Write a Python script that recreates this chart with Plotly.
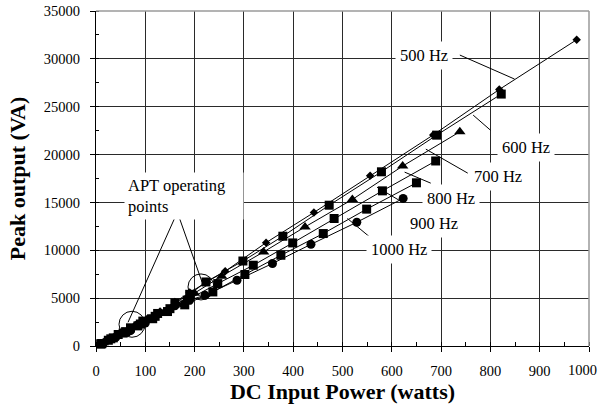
import plotly.graph_objects as go

# ---- data ----
series_names = ["500 Hz", "600 Hz", "700 Hz", "800 Hz", "900 Hz", "1000 Hz"]
series_symbols = ["diamond", "square", "triangle-up", "square", "square", "circle"]

x_500 = [12, 35, 55, 80, 105, 130, 160, 190, 225, 262, 345, 442, 556, 684, 818, 975]
y_500 = [300, 900, 1500, 2200, 2900, 3600, 4600, 5600, 6700, 7800, 10800, 13950, 17800, 22050, 26800, 32000]

x_600 = [10, 25, 45, 70, 95, 125, 160, 190, 223, 298, 379, 473, 579, 691, 822]
y_600 = [200, 600, 1200, 1900, 2600, 3400, 4500, 5400, 6690, 8880, 11470, 14710, 18200, 22030, 26320]

x_700 = [15, 40, 65, 95, 130, 165, 200, 255, 340, 424, 520, 622, 738]
y_700 = [350, 1000, 1700, 2500, 3400, 4400, 5500, 7300, 9830, 12440, 15310, 18800, 22380]

x_800 = [12, 35, 60, 90, 120, 150, 185, 247, 319, 399, 483, 581, 689]
y_800 = [250, 850, 1500, 2300, 3100, 3900, 4800, 6520, 8440, 10770, 13320, 16210, 19330]

x_900 = [10, 30, 55, 85, 115, 145, 180, 237, 302, 375, 461, 549, 650]
y_900 = [250, 750, 1350, 2100, 2850, 3600, 4300, 5650, 7470, 9480, 11750, 14300, 17050]

x_1000 = [15, 40, 70, 100, 125, 160, 190, 221, 286, 358, 436, 529, 623]
y_1000 = [300, 900, 1600, 2400, 3350, 4200, 4800, 5300, 6870, 8620, 10620, 12930, 15420]

x_ticks = [0, 100, 200, 300, 400, 500, 600, 700, 800, 900, 1000]
y_ticks = [0, 5000, 10000, 15000, 20000, 25000, 30000, 35000]
last_x_tick_label = str(x_ticks[-1])

xs = [x_500, x_600, x_700, x_800, x_900, x_1000]
ys = [y_500, y_600, y_700, y_800, y_900, y_1000]
marker_sizes = [6.5, 9, 10, 9, 9, 9]

SERIF = "Liberation Serif, Times New Roman, DejaVu Serif, serif"

fig = go.Figure()
for name, sym, xv, yv, ms in zip(series_names, series_symbols, xs, ys, marker_sizes):
    fig.add_trace(go.Scatter(
        x=xv, y=yv, name=name, mode="lines+markers",
        line=dict(color="black", width=1),
        marker=dict(symbol=sym, size=ms, color="black"),
        cliponaxis=False,
    ))

# label annotations (positions in data coordinates)
labels = [
    ("500 Hz", 665, 30400),
    ("600 Hz", 873, 20710),
    ("700 Hz", 816, 17680),
    ("800 Hz", 720, 15410),
    ("900 Hz", 685, 12800),
    ("1000 Hz", 615, 10080),
]
annotations = []
for txt, ax_, ay_ in labels:
    annotations.append(dict(
        x=ax_, y=ay_, xref="x", yref="y", text=txt, showarrow=False,
        font=dict(family=SERIF, size=16.5, color="black"),
        bgcolor="white", borderpad=4, xanchor="center", yanchor="middle",
    ))
annotations.append(dict(
    x=56, y=15650, xref="x", yref="y", text="APT operating<br>points",
    showarrow=False, align="left", xanchor="left", yanchor="middle",
    font=dict(family=SERIF, size=16.5, color="black"),
    bgcolor="white", borderpad=3, width=112, height=40,
))
# last x tick label, kept inside the page as in the reference
annotations.append(dict(
    x=x_ticks[-1], y=0, xref="x", yref="paper", text=last_x_tick_label, showarrow=False,
    xanchor="right", yanchor="middle", xshift=10, yshift=-24,
    font=dict(family=SERIF, size=14.5, color="black"),
))

# leader lines
leaders = [
    (738, 30398, 849, 27888),
    (800, 22556, 765, 24124),
    (754, 18060, 669, 20569),
    (679, 17014, 626, 18164),
    (618, 15131, 570, 16595),
    (559, 11231, 510, 13322),
    (165, 13981, 65, 2478),
    (165, 13981, 215, 6692),
]
shapes = []
for x0, y0, x1, y1 in leaders:
    shapes.append(dict(type="line", xref="x", yref="y", x0=x0, y0=y0, x1=x1, y1=y1,
                       line=dict(color="black", width=1), layer="above"))
# operating-point circles
for cx, cy in [(73, 2270), (213, 6170)]:
    shapes.append(dict(type="circle", xref="x", yref="y", xsizemode="pixel", ysizemode="pixel",
                       xanchor=cx, yanchor=cy, x0=-13, x1=13, y0=-13, y1=13,
                       line=dict(color="black", width=1), layer="above"))
# gray top / right frame
shapes.append(dict(type="line", xref="paper", yref="paper", x0=0, x1=1, y0=1, y1=1,
                   line=dict(color="#9a9a9a", width=1.5), layer="above"))
shapes.append(dict(type="line", xref="paper", yref="paper", x0=1, x1=1, y0=0, y1=1,
                   line=dict(color="#9a9a9a", width=1.5), layer="above"))

fig.update_layout(
    width=600, height=409,
    margin=dict(l=96, r=11, t=11, b=63),
    plot_bgcolor="white", paper_bgcolor="white",
    showlegend=False,
    annotations=annotations,
    shapes=shapes,
    font=dict(family=SERIF, color="black"),
)
fig.update_xaxes(
    range=[0, 1000], tickvals=x_ticks,
    ticktext=[str(v) for v in x_ticks[:-1]] + [""],
    showgrid=True, gridcolor="#2a2a2a", gridwidth=1,
    showline=True, linecolor="black", linewidth=1,
    ticks="outside", ticklen=5, tickcolor="black",
    minor=dict(dtick=50, ticks="inside", ticklen=4, tickcolor="black", showgrid=False),
    tickfont=dict(family=SERIF, size=14.5, color="black"),
    ticklabelstandoff=7,
    automargin=False,
    zeroline=False,
    title=dict(text="<b>DC Input Power (watts)</b>", font=dict(family=SERIF, size=22, color="black"), standoff=4),
)
fig.update_yaxes(
    range=[0, 35000], tickvals=y_ticks, ticktext=[str(v) for v in y_ticks],
    showgrid=True, gridcolor="#2a2a2a", gridwidth=1,
    showline=True, linecolor="black", linewidth=1,
    ticks="outside", ticklen=5, tickcolor="black",
    minor=dict(dtick=2500, ticks="inside", ticklen=3, tickcolor="black", showgrid=False),
    tickfont=dict(family=SERIF, size=14.5, color="black"),
    ticklabelstandoff=7,
    automargin=False,
    zeroline=False,
    title=dict(text="<b>Peak output (VA)</b>", font=dict(family=SERIF, size=22, color="black"), standoff=12),
)

fig.write_html("out.html")
